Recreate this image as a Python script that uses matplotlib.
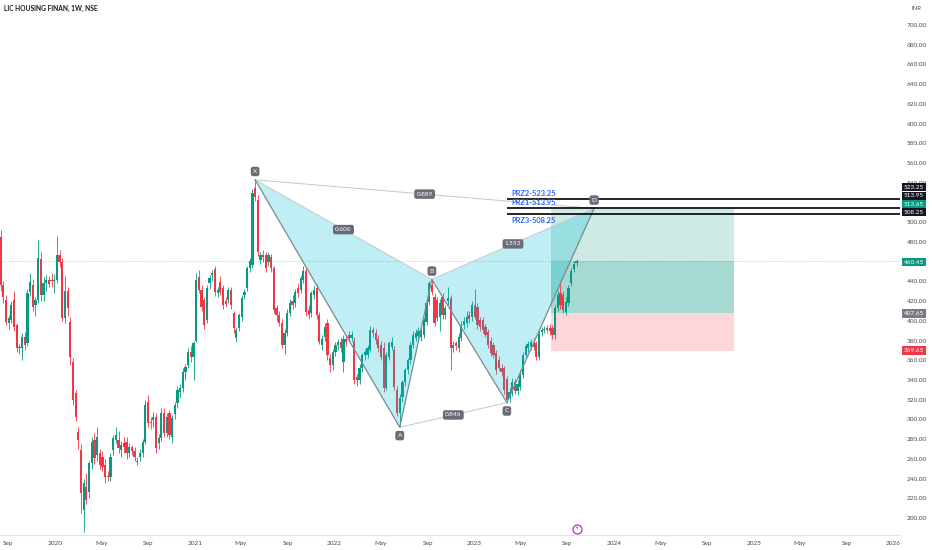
import numpy as np
import pandas as pd
import matplotlib
matplotlib.use('Agg')
import matplotlib.pyplot as plt
import matplotlib.dates as mdates
from matplotlib.transforms import blended_transform_factory

plt.rcParams['font.family'] = ['Lato', 'DejaVu Sans']

# weekly candles, LIC Housing Finance (NSE), first week 2019-08-12
start_week = '2019-08-12'
opens = [485, 436, 421, 398, 401, 421, 396, 372, 372, 384, 377, 429, 436, 416, 421, 463, 426, 438, 441, 441,
         440, 441, 467, 460, 403, 430, 399, 358, 327, 287, 269, 208, 231, 226, 256, 279, 264, 266, 262, 254,
         243, 242, 269, 279, 279, 269, 276, 277, 266, 272, 268, 258, 262, 266, 277, 318, 297, 299, 302, 276,
         281, 307, 286, 306, 282, 305, 317, 328, 332, 348, 355, 368, 363, 380, 444, 431, 421, 401, 438, 446,
         453, 428, 439, 433, 420, 421, 431, 408, 383, 393, 404, 426, 433, 454, 457, 535, 523, 462, 467, 467,
         460, 465, 454, 413, 406, 398, 375, 388, 408, 420, 418, 433, 431, 441, 451, 411, 408, 426, 433, 406,
         375, 384, 398, 362, 355, 368, 375, 378, 358, 382, 386, 383, 380, 343, 340, 352, 365, 365, 370, 391,
         388, 382, 375, 372, 332, 363, 373, 370, 330, 307, 323, 338, 350, 360, 375, 383, 385, 384, 386, 399,
         419, 436, 424, 421, 404, 424, 406, 420, 423, 372, 377, 372, 383, 396, 398, 406, 404, 416, 414, 401,
         401, 394, 389, 380, 375, 367, 360, 352, 352, 341, 322, 327, 338, 329, 333, 345, 365, 372, 373, 378,
         377, 363, 389, 391, 393, 393, 393, 386, 413, 428, 426, 409, 418, 438, 453, 459]
highs = [492, 440, 426, 406, 420, 430, 398, 376, 388, 389, 432, 448, 442, 424, 482, 470, 444, 446, 445, 448,
         447, 486, 472, 464, 445, 434, 404, 362, 330, 292, 275, 240, 246, 258, 282, 286, 292, 270, 268, 260,
         248, 266, 284, 292, 288, 278, 282, 282, 276, 274, 272, 262, 270, 280, 320, 325, 302, 308, 306, 285,
         312, 312, 306, 310, 304, 318, 334, 336, 352, 356, 372, 374, 380, 448, 452, 436, 424, 436, 446, 452,
         456, 434, 445, 436, 424, 434, 434, 410, 394, 408, 426, 432, 456, 464, 534, 543, 528, 470, 472, 470,
         470, 468, 456, 416, 410, 402, 392, 412, 422, 426, 432, 438, 446, 456, 454, 416, 430, 436, 437, 409,
         386, 398, 402, 366, 371, 378, 382, 384, 386, 386, 390, 390, 384, 346, 356, 367, 371, 375, 395, 394,
         392, 386, 380, 378, 368, 380, 384, 374, 334, 326, 340, 352, 362, 378, 390, 392, 394, 394, 404, 421,
         440, 442, 428, 424, 422, 428, 416, 434, 426, 380, 380, 388, 400, 404, 410, 410, 420, 432, 418, 404,
         404, 397, 392, 384, 378, 370, 364, 356, 354, 344, 332, 342, 341, 340, 350, 368, 377, 380, 382, 383,
         380, 392, 394, 395, 396, 397, 396, 416, 430, 440, 430, 424, 436, 454, 461, 463]
lows = [430, 418, 396, 392, 398, 390, 368, 366, 360, 370, 374, 425, 410, 405, 418, 420, 420, 430, 434, 434,
        428, 438, 455, 400, 398, 405, 355, 315, 298, 270, 205, 186, 214, 220, 250, 255, 258, 250, 248, 236,
        238, 238, 264, 276, 266, 262, 266, 260, 262, 264, 258, 254, 258, 262, 275, 292, 290, 292, 266, 270,
        278, 282, 282, 280, 276, 300, 312, 322, 328, 340, 352, 358, 340, 378, 428, 410, 392, 398, 432, 440,
        425, 424, 426, 412, 414, 418, 412, 388, 378, 390, 400, 422, 430, 450, 454, 522, 466, 458, 460, 450,
        456, 450, 408, 400, 395, 372, 366, 385, 405, 412, 414, 424, 428, 438, 405, 402, 404, 422, 402, 376,
        370, 380, 360, 348, 350, 364, 370, 368, 348, 374, 380, 380, 336, 334, 336, 348, 360, 362, 368, 384,
        376, 368, 360, 328, 330, 360, 370, 330, 303, 292, 318, 334, 346, 356, 372, 380, 382, 380, 383, 396,
        416, 426, 395, 400, 390, 402, 402, 416, 350, 368, 370, 368, 380, 392, 394, 398, 400, 402, 392, 390,
        388, 384, 372, 364, 362, 346, 350, 344, 326, 317, 318, 324, 326, 325, 330, 342, 362, 368, 370, 370,
        360, 360, 385, 388, 388, 386, 382, 382, 410, 412, 408, 406, 415, 435, 450, 456]
closes = [436, 424, 399, 403, 416, 394, 372, 373, 384, 375, 428, 439, 414, 421, 464, 426, 438, 441, 437, 440,
          441, 467, 460, 403, 430, 413, 363, 320, 302, 279, 225, 236, 218, 256, 277, 261, 282, 254, 252, 242,
          242, 262, 281, 284, 271, 274, 272, 266, 272, 268, 262, 257, 266, 277, 315, 296, 296, 302, 271, 281,
          306, 286, 302, 284, 301, 315, 330, 332, 348, 353, 368, 363, 377, 441, 431, 414, 396, 433, 443, 448,
          429, 431, 429, 416, 417, 431, 416, 393, 391, 406, 423, 429, 454, 461, 530, 526, 470, 467, 465, 454,
          467, 454, 411, 406, 398, 375, 388, 408, 418, 416, 429, 428, 443, 451, 409, 406, 428, 431, 406, 378,
          382, 394, 365, 355, 368, 375, 378, 372, 382, 378, 383, 386, 340, 340, 352, 365, 368, 372, 391, 388,
          381, 372, 363, 332, 365, 377, 378, 333, 307, 322, 338, 350, 360, 375, 386, 388, 390, 391, 401, 418,
          438, 429, 398, 403, 418, 406, 413, 423, 372, 375, 374, 384, 396, 400, 404, 402, 416, 404, 396, 394,
          391, 386, 375, 367, 365, 350, 352, 348, 330, 320, 328, 338, 329, 336, 345, 365, 374, 376, 378, 373,
          363, 387, 391, 392, 391, 390, 386, 413, 426, 416, 411, 419, 433, 451, 458, 460.45]

# bearish bat harmonic pattern
pat_names = ['X', 'A', 'B', 'C', 'D']
pat_dates = ['2021-06-07', '2022-06-20', '2022-09-12', '2023-03-27', '2023-11-10']
pat_prices = [543, 292, 442, 317, 514]
ratio_from = [0, 1, 2, 0]
ratio_to = [2, 3, 4, 4]
ratio_text = ['0.606', '0.846', '1.553', '0.889']

# PRZ levels
prz_levels = [523.25, 513.95, 508.25]
prz_labels = ['PRZ2-523.25', 'PRZ1-513.95', 'PRZ3-508.25']
prz_label_y = [529.5, 520.0, 501.5]
prz_start = '2023-03-27'

# long position tool
pos_start, pos_end = '2023-07-20', '2024-11-09'
entry, target, stop = 407.65, 513.65, 369.65
last_price = 460.45

# price scale badges: text, y on scale, colour
badge_text = ['523.25', '513.95', '513.65', '508.25', '460.45', '407.65', '369.65']
badge_y = [535.7, 526.6, 518.0, 510.3, 459.6, 407.65, 369.6]
badge_col = ['#131722', '#131722', '#089981', '#131722', '#089981', '#787b86', '#f23645']

# scale labels hidden behind the badges
y_ticks = [v for v in range(200, 701, 20) if v not in (460, 520)]

GREEN = '#089981'
RED = '#f23645'

fig = plt.figure(figsize=(9.32, 5.5), dpi=100)
ax = fig.add_axes([0, 15 / 550, 900 / 932, 535 / 550])

dates = pd.date_range(start_week, periods=len(closes), freq='7D')
x = mdates.date2num(dates)
o = np.array(opens, dtype=float)
h = np.array(highs, dtype=float)
l = np.array(lows, dtype=float)
c = np.array(closes, dtype=float)
col = np.where(c >= o, GREEN, RED)

# position boxes (under candles)
t0, t1 = mdates.date2num(pd.Timestamp(pos_start)), mdates.date2num(pd.Timestamp(pos_end))
ax.fill_between([t0, t1], entry, target, color=GREEN, alpha=0.2, lw=0, zorder=1)
ax.fill_between([t0, t1], entry, last_price, color=GREEN, alpha=0.2, lw=0, zorder=1)
ax.fill_between([t0, t1], stop, entry, color=RED, alpha=0.2, lw=0, zorder=1)

# candles
ax.vlines(x, l, h, colors=col, lw=0.6, zorder=2)
ax.bar(x, np.maximum(np.abs(c - o), 0.8), bottom=np.minimum(o, c), width=5.8,
       color=col, lw=0, zorder=2)

# last price line
ax.axhline(last_price, color=GREEN, lw=0.6, ls=(0, (1, 2)), alpha=0.5, zorder=1)

# harmonic pattern
px = mdates.date2num(pd.to_datetime(pat_dates))
py = np.array(pat_prices, dtype=float)
ax.fill(px[[0, 1, 2]], py[[0, 1, 2]], color='#00bcd4', alpha=0.25, lw=0, zorder=3)
ax.fill(px[[2, 3, 4]], py[[2, 3, 4]], color='#00bcd4', alpha=0.25, lw=0, zorder=3)
ax.plot(px, py, color='#7b8a8f', lw=0.9, zorder=4)
for a, b, txt in zip(ratio_from, ratio_to, ratio_text):
    ax.plot([px[a], px[b]], [py[a], py[b]], color='#c3c9cc', lw=0.7, zorder=3)
    ax.text((px[a] + px[b]) / 2, (py[a] + py[b]) / 2, txt, color='white', fontsize=4.6,
            ha='center', va='center', zorder=6,
            bbox=dict(boxstyle='round,pad=0.35', fc='#6a6d78', ec='none'))
offs = [6, -6, 6, -6, 6]
for name, xx, yy, off in zip(pat_names, px, py, offs):
    ax.annotate(name, (xx, yy), xytext=(0, off), textcoords='offset points', color='white',
                fontsize=4.6, ha='center', va='center', zorder=6,
                bbox=dict(boxstyle='round,pad=0.35', fc='#6a6d78', ec='none'))

# PRZ lines
ps = mdates.date2num(pd.Timestamp(prz_start))
ax.hlines(prz_levels, ps, 20470.5, colors='black', lw=1.2, zorder=5)
for txt, yy in zip(prz_labels, prz_label_y):
    ax.annotate(txt, (ps, yy), xytext=(3, 0), textcoords='offset points', color='#2962ff',
                fontsize=5.4, fontweight='bold', ha='left', va='center', zorder=6)

# event marker near the time axis
ev = mdates.date2num(pd.Timestamp('2023-09-25'))
btf = blended_transform_factory(ax.transData, ax.transAxes)
ax.plot([ev], [0.012], marker='o', ms=6.5, mfc='white', mec='#9c27b0', mew=0.8,
        transform=btf, clip_on=False, zorder=6)
ax.text(ev, 0.012, '\u26a1', color='#9c27b0', fontsize=4.2, ha='center', va='center',
        family=['DejaVu Sans'], transform=btf, zorder=7)

# axes
ax.set_xlim(18118.25, 20470.5)
ax.set_ylim(182.76, 725.36)
for s in ['top', 'left', 'right']:
    ax.spines[s].set_visible(False)
ax.spines['bottom'].set_color('#e0e3eb')
ax.spines['bottom'].set_linewidth(0.8)

ax.yaxis.tick_right()
ax.set_yticks(y_ticks)
ax.set_yticklabels([f'{v:.2f}' for v in y_ticks])
ax.tick_params(axis='y', length=0, pad=5, labelsize=4.6, labelcolor='#4a4a4a')

xt = pd.date_range('2019-09-01', '2026-01-01', freq='4MS')
ax.set_xticks(mdates.date2num(xt))
ax.set_xticklabels([str(d.year) if d.month == 1 else d.strftime('%b') for d in xt])
ax.tick_params(axis='x', length=0, pad=4, labelsize=4.6, labelcolor='#4a4a4a')

# price scale badges
btr = blended_transform_factory(ax.transAxes, ax.transData)
for txt, yy, cc in zip(badge_text, badge_y, badge_col):
    ax.text(1.004, yy, txt, color='white', fontsize=4.6, ha='left', va='center',
            transform=btr, clip_on=False, zorder=10,
            bbox=dict(boxstyle='square,pad=0.3', fc=cc, ec='none'))

fig.text(4 / 932, 1 - 8 / 550, 'LIC HOUSING FINAN, 1W, NSE', fontsize=4.8,
         fontweight='bold', color='#131722', ha='left', va='center')
fig.text(912 / 932, 1 - 8 / 550, 'INR', fontsize=4.4, color='#4a4a4a', ha='left', va='center')

fig.savefig('out.png', dpi=100)
